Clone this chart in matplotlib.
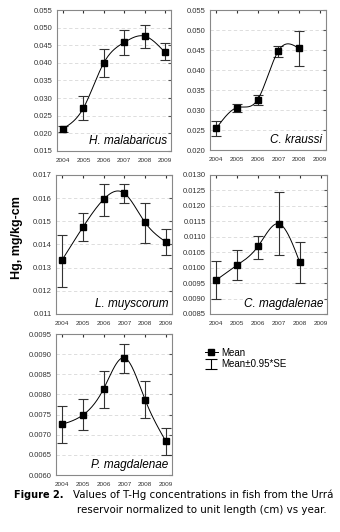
import matplotlib
matplotlib.use("Agg")
import numpy as np
import matplotlib.pyplot as plt
from matplotlib.lines import Line2D

plt.rcParams["font.family"] = ["Liberation Sans", "DejaVu Sans"]

years = [2004, 2005, 2006, 2007, 2008, 2009]

# H. malabaricus
hm_mean = [0.02135, 0.0272, 0.0400, 0.0458, 0.0476, 0.0430]
hm_lo = [0.0204, 0.0237, 0.0361, 0.0421, 0.0441, 0.0407]
hm_hi = [0.0221, 0.0305, 0.0440, 0.0494, 0.0508, 0.0455]

# C. kraussi (no 2009 data)
ck_mean = [0.0254, 0.0306, 0.0326, 0.0448, 0.0454]
ck_lo = [0.0235, 0.0296, 0.0312, 0.0432, 0.0409]
ck_hi = [0.0273, 0.0316, 0.0338, 0.0461, 0.0498]

# L. muyscorum
lm_mean = [0.01334, 0.01475, 0.01595, 0.01621, 0.01495, 0.01411]
lm_lo = [0.01218, 0.01416, 0.01525, 0.01578, 0.01406, 0.01354]
lm_hi = [0.01443, 0.01535, 0.01663, 0.01663, 0.01580, 0.01465]

# C. magdalenae (no 2009 data)
cm_mean = [0.00960, 0.01008, 0.01069, 0.01142, 0.01017]
cm_lo = [0.00898, 0.00960, 0.01029, 0.01040, 0.00951]
cm_hi = [0.01020, 0.01057, 0.01104, 0.01244, 0.01083]

# P. magdalenae
pm_mean = [0.00726, 0.00749, 0.00814, 0.00891, 0.00787, 0.00684]
pm_lo = [0.00679, 0.00711, 0.00766, 0.00854, 0.00741, 0.00650]
pm_hi = [0.00772, 0.00788, 0.00858, 0.00926, 0.00833, 0.00716]


def _natural_spline(x, y, n=200):
    x = np.asarray(x, float)
    y = np.asarray(y, float)
    k = len(x)
    h = np.diff(x)
    A = np.zeros((k, k))
    b = np.zeros(k)
    A[0, 0] = A[-1, -1] = 1.0
    for i in range(1, k - 1):
        A[i, i - 1] = h[i - 1]
        A[i, i] = 2 * (h[i - 1] + h[i])
        A[i, i + 1] = h[i]
        b[i] = 6 * ((y[i + 1] - y[i]) / h[i] - (y[i] - y[i - 1]) / h[i - 1])
    M = np.linalg.solve(A, b)
    xs = np.linspace(x[0], x[-1], n)
    idx = np.clip(np.searchsorted(x, xs) - 1, 0, k - 2)
    x0, x1 = x[idx], x[idx + 1]
    hh = x1 - x0
    t0, t1 = x1 - xs, xs - x0
    ys = (M[idx] * t0 ** 3 / (6 * hh) + M[idx + 1] * t1 ** 3 / (6 * hh)
          + (y[idx] / hh - M[idx] * hh / 6) * t0
          + (y[idx + 1] / hh - M[idx + 1] * hh / 6) * t1)
    return xs, ys


def _panel(rect, mean, lo, hi, ylim, step, fmt, name):
    ax = fig.add_axes(rect)
    x = years[:len(mean)]
    mean = np.asarray(mean)
    err = [mean - np.asarray(lo), np.asarray(hi) - mean]
    xs, ys = _natural_spline(x, mean)
    ax.plot(xs, ys, color="k", lw=0.7, zorder=3)
    ax.errorbar(x, mean, yerr=err, fmt="none", ecolor="#333333",
                elinewidth=0.8, capsize=3.5, capthick=0.8, zorder=2)
    ax.plot(x, mean, "s", color="k", ms=4.5, zorder=4)
    ax.set_xlim(2003.7, 2009.3)
    ax.set_ylim(*ylim)
    ticks = np.arange(ylim[0], ylim[1] + step / 2, step)
    ax.set_yticks(ticks)
    ax.set_yticklabels([fmt.format(t) for t in ticks], fontsize=5.5, color="#333333")
    ax.set_xticks(years)
    ax.set_xticklabels([str(y) for y in years], fontsize=4.6, color="#333333")
    ax.tick_params(axis="x", direction="in", top=True, bottom=False, length=2,
                   pad=5, color="#333333")
    ax.tick_params(axis="y", direction="in", left=False, right=True, length=2,
                   pad=3, color="#555555")
    ax.yaxis.grid(True, ls=(0, (4, 3)), color="#d8d8d8", lw=0.6)
    ax.set_axisbelow(True)
    for s in ax.spines.values():
        s.set_color("#888888")
        s.set_linewidth(0.8)
    ax.text(0.97, 0.03, name, transform=ax.transAxes, ha="right", va="bottom",
            fontsize=8.5, style="italic", zorder=5,
            bbox=dict(facecolor="white", edgecolor="none", pad=0.5))
    return ax


fig = plt.figure(figsize=(3.4, 5.32), dpi=100)

_panel([0.1676, 0.7162, 0.3353, 0.265], hm_mean, hm_lo, hm_hi,
       (0.015, 0.055), 0.005, "{:.3f}", "H. malabaricus")
_panel([0.6176, 0.718, 0.3412, 0.263], ck_mean, ck_lo, ck_hi,
       (0.020, 0.055), 0.005, "{:.3f}", "C. kraussi")
_panel([0.1647, 0.4098, 0.3412, 0.2613], lm_mean, lm_lo, lm_hi,
       (0.011, 0.017), 0.001, "{:.3f}", "L. muyscorum")
_panel([0.6176, 0.4098, 0.344, 0.2613], cm_mean, cm_lo, cm_hi,
       (0.0085, 0.0130), 0.0005, "{:.4f}", "C. magdalenae")
ax5 = _panel([0.1647, 0.1071, 0.3412, 0.265], pm_mean, pm_lo, pm_hi,
             (0.0060, 0.0095), 0.0005, "{:.4f}", "P. magdalenae")

fig.text(17 / 340, 1 - 238 / 532, "Hg, mg/kg-cm", rotation=90, ha="center",
         va="center", fontsize=9, fontweight="bold")

# legend (proxy handles, nothing drawn in the axes)
mean_h = Line2D([], [], color="k", marker="s", ms=4.5, lw=0.7)
err_h = ax5.errorbar([np.nan], [np.nan], yerr=[np.nan], fmt="none", ecolor="k",
                     elinewidth=0.8, capsize=4, capthick=0.8)
fig.legend([mean_h, err_h], ["Mean", "Mean±0.95*SE"], loc="upper left",
           bbox_to_anchor=(200 / 340, 1 - 343 / 532), frameon=False,
           fontsize=7, handlelength=1.3, handletextpad=0.4, labelspacing=0.15,
           borderpad=0)

fig.text(64 / 340, 1 - 495 / 532, "Figure 2.", fontsize=7.0, fontweight="bold",
         family="DejaVu Sans", va="center", ha="right")
fig.text(73 / 340, 1 - 495 / 532,
         "Values of T-Hg concentrations in fish from the Urrá",
         fontsize=7.4, family="DejaVu Sans", va="center")
fig.text(77 / 340, 1 - 510 / 532,
         "reservoir normalized to unit length (cm) vs year.",
         fontsize=7.4, family="DejaVu Sans", va="center")

fig.savefig("out.png", dpi=100)
